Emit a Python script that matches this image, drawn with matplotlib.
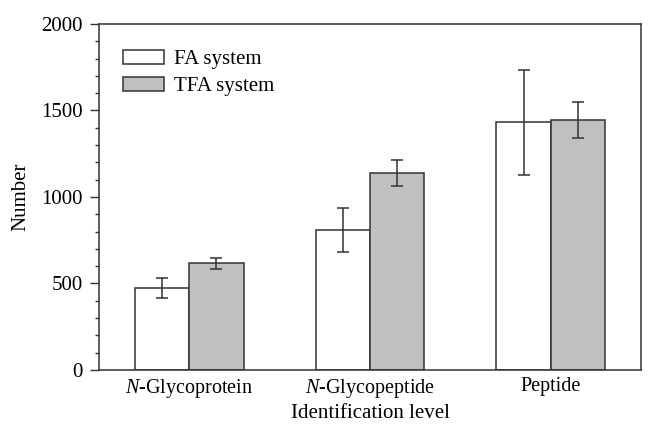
import numpy as np
import matplotlib
matplotlib.use("Agg")
import matplotlib.pyplot as plt

# data
levels = ["$\\it{N}$-Glycoprotein", "$\\it{N}$-Glycopeptide", "Peptide"]
fa_mean = [474, 809, 1432]
fa_err = [56, 129, 303]
tfa_mean = [616, 1139, 1446]
tfa_err = [33, 76, 104]

plt.rcParams["font.family"] = "Liberation Serif"
plt.rcParams["mathtext.fontset"] = "custom"
plt.rcParams["mathtext.rm"] = "Liberation Serif"
plt.rcParams["mathtext.it"] = "Liberation Serif:italic"

fig = plt.figure(figsize=(6.66, 4.28), dpi=100)
ax = fig.add_axes([0.1486, 0.1355, 0.8139, 0.8085])

x = np.arange(len(levels))
w = 0.3
edge = "#333333"
err_kw = dict(ecolor=edge, elinewidth=1.1, capsize=4.5, capthick=1.1)

ax.bar(x - w / 2, fa_mean, w, yerr=fa_err, color="white", edgecolor=edge,
       linewidth=1.1, label="FA system", error_kw=err_kw)
ax.bar(x + w / 2, tfa_mean, w, yerr=tfa_err, color="#c0c0c0", edgecolor=edge,
       linewidth=1.1, label="TFA system", error_kw=err_kw)

ax.set_xlim(-0.5, 2.5)
ax.set_ylim(0, 2000)
ax.set_yticks([0, 500, 1000, 1500, 2000])
ax.set_yticks(np.arange(0, 2001, 100), minor=True)
ax.set_xticks(x)
ax.set_xticklabels(levels)
ax.tick_params(axis="y", which="major", direction="out", length=6.5, width=1,
               labelsize=15, pad=5, colors=edge, labelcolor="black")
ax.tick_params(axis="y", which="minor", direction="out", length=3, width=1,
               colors=edge)
ax.tick_params(axis="x", length=0, labelsize=14.5, pad=5)

for s in ax.spines.values():
    s.set_color(edge)
    s.set_linewidth(1.1)

ax.set_ylabel("Number", fontsize=15, labelpad=8)
ax.set_xlabel("Identification level", fontsize=15, labelpad=3)

ax.legend(loc="upper left", frameon=False, fontsize=15, handlelength=1.95,
          handleheight=0.65, handletextpad=0.5, labelspacing=0.38,
          bbox_to_anchor=(0.01, 0.98))

fig.savefig("out.png", dpi=100)
